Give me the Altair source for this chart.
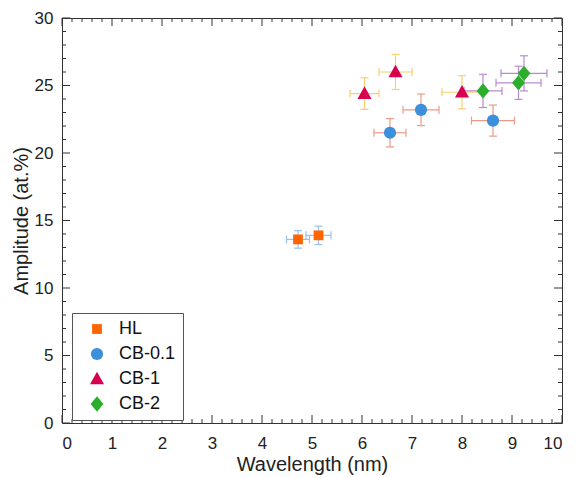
import altair as alt
import pandas as pd

# ---- data ----
series = ["HL", "HL", "CB-0.1", "CB-0.1", "CB-0.1", "CB-1", "CB-1", "CB-1", "CB-2", "CB-2", "CB-2"]
wavelength = [4.72, 5.13, 6.56, 7.18, 8.62, 6.05, 6.67, 8.00, 8.42, 9.13, 9.24]
amplitude = [13.6, 13.9, 21.5, 23.2, 22.4, 24.4, 26.0, 24.5, 24.6, 25.2, 25.9]
wavelength_err = [0.23, 0.25, 0.32, 0.36, 0.43, 0.29, 0.33, 0.40, 0.38, 0.45, 0.46]
amplitude_err = [0.65, 0.68, 1.05, 1.17, 1.15, 1.17, 1.30, 1.23, 1.23, 1.23, 1.30]

order = ["HL", "CB-0.1", "CB-1", "CB-2"]
marker_colors = ["#FF6400", "#3C8FDB", "#D6004F", "#2BAE2B"]
err_colors = ["#9DBDEB", "#EE9A88", "#F7CF6E", "#B98AD2"]
shapes = [
    "M-0.8,-0.8L0.8,-0.8L0.8,0.8L-0.8,0.8Z",
    "circle",
    "M0,-1.2L1.15,0.87L-1.15,0.87Z",
    "M0,-1.25L1.05,0L0,1.25L-1.05,0Z",
]

x_major = list(range(0, 11))
x_minor = [i / 5 for i in range(0, 51) if i % 5 != 0]
y_major = list(range(0, 31, 5))
y_minor = [i for i in range(0, 31) if i % 5 != 0]

df = pd.DataFrame({
    "series": series,
    "grp": series,
    "wavelength": wavelength,
    "amplitude": amplitude,
    "xerr": wavelength_err,
    "yerr": amplitude_err,
})
df["x_lo"] = df["wavelength"] - df["xerr"]
df["x_hi"] = df["wavelength"] + df["xerr"]
df["y_lo"] = df["amplitude"] - df["yerr"]
df["y_hi"] = df["amplitude"] + df["yerr"]

W, H = 500, 405
FONT = "Liberation Sans"
XT = "Wavelength (nm)"
YT = "Amplitude (at.%)"
xs = alt.Scale(domain=[0, 10], nice=False, zero=False)
ys = alt.Scale(domain=[0, 30], nice=False, zero=False)
AX = alt.Axis(values=x_major, ticks=False, domain=False, grid=False,
              labelPadding=12, titlePadding=3)
AY = alt.Axis(values=y_major, ticks=False, domain=False, grid=False,
              labelPadding=9, titlePadding=3)


def X(f):
    return alt.X(f, scale=xs, axis=AX, title=XT)


def Y(f):
    return alt.Y(f, scale=ys, axis=AY, title=YT)


# error-bar colours: data-driven domain (sorted) so it never merges with the legend
err_stroke = alt.Stroke("grp:N", sort=order, scale=alt.Scale(range=err_colors), legend=None)

base = alt.Chart(df)

xerr_rule = base.mark_rule(strokeWidth=1.2).encode(
    x=X("x_lo:Q"), x2="x_hi:Q", y=Y("amplitude:Q"), stroke=err_stroke)
yerr_rule = base.mark_rule(strokeWidth=1.2).encode(
    x=X("wavelength:Q"), y=Y("y_lo:Q"), y2="y_hi:Q", stroke=err_stroke)
xcaps = base.transform_fold(["x_lo", "x_hi"], as_=["k", "cx"]).mark_point(
    shape="M0,-1L0,1", filled=False, size=64, strokeWidth=1.2, opacity=1).encode(
    x=X("cx:Q"), y=Y("amplitude:Q"), stroke=err_stroke)
ycaps = base.transform_fold(["y_lo", "y_hi"], as_=["k", "cy"]).mark_point(
    shape="M-1,0L1,0", filled=False, size=64, strokeWidth=1.2, opacity=1).encode(
    x=X("wavelength:Q"), y=Y("cy:Q"), stroke=err_stroke)

legend = alt.Legend(title=None, orient="none", legendX=10, legendY=295,
                    strokeColor="#555", fillColor="white", padding=7,
                    labelFontSize=18, labelFont=FONT, labelColor="#111",
                    symbolSize=150, rowPadding=7, labelOffset=13,
                    symbolOffset=9, symbolStrokeWidth=0)

markers = base.mark_point(filled=True, size=150, opacity=1, strokeWidth=0).encode(
    x=X("wavelength:Q"),
    y=Y("amplitude:Q"),
    color=alt.Color("series:N", scale=alt.Scale(domain=order, range=marker_colors),
                    legend=legend),
    shape=alt.Shape("series:N", scale=alt.Scale(domain=order, range=shapes), legend=legend),
)

TC = "#333"


def xticks(vals, length):
    d = pd.DataFrame({"t": vals})
    b = alt.Chart(d).mark_rule(color=TC, strokeWidth=1)
    return [
        b.encode(x=X("t:Q"), y=alt.value(H), y2=alt.value(H - length)),
        b.encode(x=X("t:Q"), y=alt.value(0), y2=alt.value(length)),
    ]


def yticks(vals, length):
    d = pd.DataFrame({"t": vals})
    b = alt.Chart(d).mark_rule(color=TC, strokeWidth=1)
    return [
        b.encode(y=Y("t:Q"), x=alt.value(0), x2=alt.value(length)),
        b.encode(y=Y("t:Q"), x=alt.value(W), x2=alt.value(W - length)),
    ]


tick_layers = xticks(x_major, 8) + xticks(x_minor, 4) + yticks(y_major, 8) + yticks(y_minor, 4)

chart = alt.layer(
    *tick_layers, xerr_rule, yerr_rule, xcaps, ycaps, markers
).properties(
    width=W, height=H,
    background="white",
    autosize=alt.AutoSizeParams(type="none"),
    padding={"left": 54, "top": 10, "right": 17, "bottom": 55},
).configure_view(stroke="#333", strokeWidth=1).configure_axis(
    labelFont=FONT, titleFont=FONT, labelFontSize=17, titleFontSize=20,
    labelColor="#222", titleColor="#222", titleFontWeight="normal",
)

chart.save("out.html", embed_options={"renderer": "svg", "actions": False})
